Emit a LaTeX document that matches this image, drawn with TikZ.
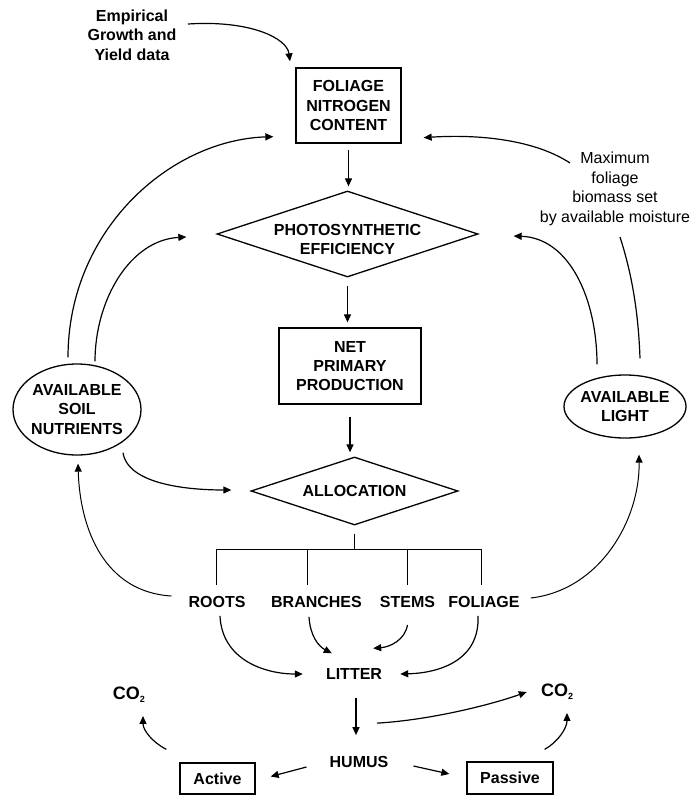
\documentclass[tikz,border=0pt]{standalone}
\usepackage{fontspec}
\setmainfont{Liberation Sans}
\usetikzlibrary{arrows.meta,shapes.geometric}
\newcommand{\subtwo}{\lower3pt\hbox{\fontsize{9}{9}\selectfont 2}}
\begin{document}
\begin{tikzpicture}[x=1pt,y=-1pt,
  every node/.style={font=\fontsize{16}{19.3}\selectfont\bfseries, align=center, inner sep=0pt},
  box/.style={draw, line width=1.3pt, rectangle},
  dia/.style={draw, line width=1.3pt, diamond, aspect=3.03},
  ell/.style={draw, line width=1.3pt, ellipse, inner xsep=-2.5pt},
  cotwo/.style={font=\fontsize{18}{20}\selectfont\bfseries},
  line/.style={line width=1.2pt},
  arr/.style={line width=1.2pt, -{Triangle[length=8pt,width=7pt]}},
  thinline/.style={line width=1pt}]
\useasboundingbox (0,0) rectangle (691,795);
% nodes
\node[box, minimum width=105pt, minimum height=75pt] (fnc) at (348.5,105.5) {FOLIAGE\\NITROGEN\\CONTENT};
\node (emp) at (132,35) {Empirical\\Growth and\\Yield data};
\node[font=\fontsize{16}{19.7}\selectfont] (maxt) at (615,189) {Maximum\\foliage\\biomass set\\by available moisture};
\node[dia, minimum width=261pt, minimum height=86pt] (photo) at (347.5,234) {};
\node (phototext) at (347.5,239.5) {PHOTOSYNTHETIC\\EFFICIENCY};
\node[box, minimum width=142pt, minimum height=76pt] (npp) at (350,366) {NET\\PRIMARY\\PRODUCTION};
\node[dia, minimum width=207pt, minimum height=68pt] (alloc) at (354.5,491) {ALLOCATION};
\node[ell, minimum width=128pt, minimum height=91pt] (soil) at (77,409.5) {AVAILABLE\\SOIL\\NUTRIENTS};
\node[ell, minimum width=122pt, minimum height=63pt] (light) at (625,406.5) {AVAILABLE\\LIGHT};
\node (roots) at (217,602) {ROOTS};
\node (bran) at (316.5,602) {BRANCHES};
\node (stems) at (407.5,602) {STEMS};
\node (fol) at (484,602) {FOLIAGE};
\node (litter) at (354,674) {LITTER};
\node (humus) at (359,762) {HUMUS};
\node[cotwo] (co2l) at (129,695) {CO\subtwo};
\node[cotwo] (co2r) at (557,692) {CO\subtwo};
\node[box, minimum width=75pt, minimum height=31pt] (active) at (217.5,778.5) {Active};
\node[box, minimum width=86pt, minimum height=32pt] (passive) at (510,778) {Passive};
\coordinate (bar) at (354.5,549);
% connectors
\draw[arr] ([shift={(56,-11)}]emp.center) .. controls (250,20) and (287,38) .. ([shift={(-58.5,-6)}]fnc.north);
\draw[arr] ([yshift=-6pt]fnc.south) -- ([yshift=4pt]fnc.south |- photo.north);
\draw[arr] ([yshift=-8pt]photo.south) -- ([yshift=5pt]photo.south |- npp.north);
\draw[arr] ([yshift=-12pt]npp.south) -- ([yshift=4pt]npp.south |- alloc.north);
\draw[arr] ([shift={(-9,-6)}]soil.north) .. controls (68,230) and (170,140) .. ([shift={(-22,-7)}]fnc.south west);
\draw[arr] ([shift={(18,-2)}]soil.north) .. controls (95,300) and (130,240) .. ([shift={(-30,3)}]photo.west);
\draw[arr] ([shift={(-28,-10)}]light.north) .. controls (597,300) and (570,238) .. ([shift={(35,2)}]photo.east);
\draw[line] ([shift={(15,-16)}]light.north) .. controls (638,300) and (628,262) .. ([shift={(5,48)}]maxt.center);
\draw[arr] ([shift={(-45,-26)}]maxt.center) .. controls (535,140) and (480,134) .. ([shift={(22,-6)}]fnc.south east);
\draw[arr] ([shift={(46,-3)}]soil.south) .. controls (128,485) and (190,490) .. ([shift={(-19,-1)}]alloc.west);
\draw[arr, thinline] ([shift={(-17,-6)}]roots.west) .. controls (105,592) and (80,530) .. ([shift={(1,8)}]soil.south);
\draw[arr, thinline] ([shift={(11,-4)}]fol.east) .. controls (600,590) and (640,520) .. ([shift={(14,16)}]light.south);
% tree
\draw[thinline] ([yshift=-8pt]alloc.south) -- (bar);
\draw[thinline] ([shift={(-1,-11)}]roots.north) -- ([xshift=-1pt]roots.north |- bar) -- ([xshift=-3pt]fol.north |- bar) -- ([shift={(-3,-11)}]fol.north);
\draw[thinline] ([shift={(-9.5,-11)}]bran.north) -- ([xshift=-9.5pt]bran.north |- bar);
\draw[thinline] ([shift={(-0.5,-11)}]stems.north) -- ([xshift=-0.5pt]stems.north |- bar);
% litter
\draw[arr] ([shift={(3,8)}]roots.south) .. controls (222,660) and (265,674) .. ([xshift=-23pt]litter.west);
\draw[arr] ([shift={(-7.5,9)}]bran.south) .. controls (310,635) and (318,646) .. ([shift={(6,-15)}]litter.north west);
\draw[arr] ([shift={(0,17)}]stems.south) .. controls (405,640) and (390,647) .. ([shift={(-9,-20)}]litter.north east);
\draw[arr] ([shift={(-6,8)}]fol.south) .. controls (480,660) and (440,673) .. ([xshift=18pt]litter.east);
\draw[arr] ([shift={(2,18)}]litter.south) -- ([shift={(-3,-21)}]humus.north);
% humus
\draw[arr] ([shift={(18,-33)}]humus.north) .. controls (430,720) and (490,705) .. ([xshift=-14pt]co2r.west);
\draw[arr] ([shift={(-23,5)}]humus.west) -- ([shift={(15,-2)}]active.east);
\draw[arr] ([shift={(25,4)}]humus.east) -- ([shift={(-17,-4)}]passive.west);
\draw[arr] ([shift={(-13,-13)}]active.north west) .. controls (152,742) and (143,730) .. ([shift={(14,13)}]co2l.south);
\draw[arr] ([shift={(-9,-12)}]passive.north east) .. controls (558,742) and (567,728) .. ([shift={(10,13)}]co2r.south);
\end{tikzpicture}
\end{document}
